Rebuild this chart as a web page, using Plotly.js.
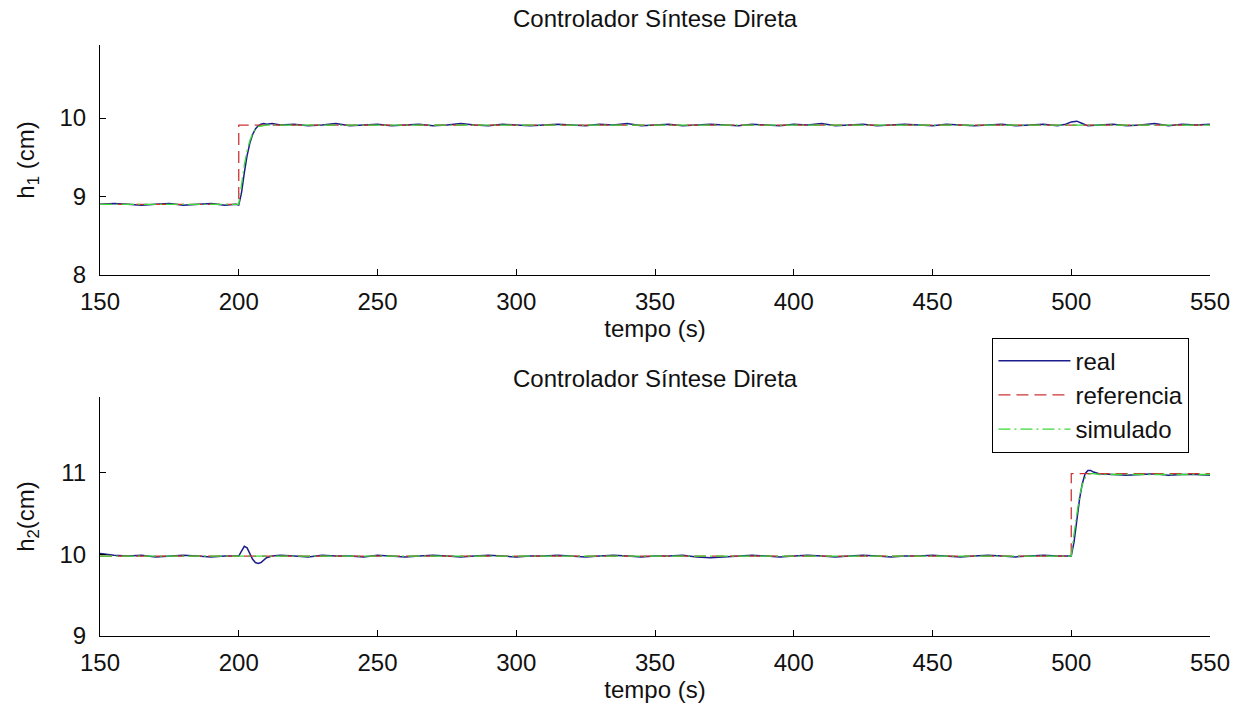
<!DOCTYPE html>
<html>
<head>
<meta charset="utf-8">
<script src="https://cdn.plot.ly/plotly-3.0.1.min.js"></script>
<style>html,body{margin:0;padding:0;background:#fff;}#chart{width:1238px;height:703px;}</style>
</head>
<body>
<div id="chart"></div>
<script>
// ---------- data: top plot (h1) ----------
const t1 = [150,155,160,165,170,175,180,185,190,195,199,200,201,202,203,204,205,206,207,208,209,210,212,215,
  220,225,230,235,240,245,250,255,260,265,270,275,280,285,290,295,300,305,310,315,320,325,330,335,340,345,
  350,355,360,365,370,375,380,385,390,395,400,405,410,415,420,425,430,435,440,445,450,455,460,465,470,475,
  480,485,490,495,498,500,502,504,506,510,515,520,525,530,535,540,545,550];
const real1 = [8.90,8.91,8.90,8.89,8.90,8.91,8.89,8.90,8.91,8.89,8.90,
  8.89,9.05,9.30,9.52,9.68,9.79,9.86,9.90,9.92,9.93,9.92,9.93,9.91,
  9.92,9.90,9.91,9.93,9.90,9.91,9.92,9.90,9.91,9.92,
  9.90,9.91,9.93,9.91,9.90,9.92,9.91,9.90,9.91,9.92,
  9.91,9.90,9.92,9.91,9.93,9.90,9.91,9.92,9.90,9.91,
  9.92,9.91,9.90,9.92,9.91,9.90,9.92,9.91,9.93,9.90,
  9.91,9.92,9.90,9.91,9.92,9.91,9.90,9.92,9.91,9.90,
  9.91,9.92,9.90,9.91,9.92,9.90,
  9.92,9.95,9.96,9.93,9.90,
  9.91,9.92,9.90,9.91,9.93,9.90,9.92,9.91,9.92];
const refT1 = [150,200,200,550];
const ref1 = [8.90,8.90,9.91,9.91];
const simT1 = [150,200,201,202,203,204,205,206,207,208,209,210,550];
const sim1 = [8.90,8.90,9.15,9.40,9.58,9.71,9.80,9.86,9.89,9.90,9.91,9.91,9.91];

// ---------- data: bottom plot (h2) ----------
const t2 = [150,152,155,160,165,170,175,180,185,190,195,199,200,201,202,203,204,205,206,207,208,209,210,212,215,
  220,225,230,235,240,245,250,255,260,265,270,275,280,285,290,295,300,305,310,315,320,325,330,335,340,345,
  350,355,360,365,370,375,380,385,390,395,400,405,410,415,420,425,430,435,440,445,450,455,460,465,470,475,
  480,485,490,495,499,500,501,502,503,504,505,506,507,508,510,515,520,525,530,535,540,545,550];
const real2 = [10.01,10.00,9.99,9.98,9.99,9.97,9.98,9.99,9.98,9.97,9.98,
  9.98,9.98,10.04,10.10,10.08,10.01,9.94,9.90,9.89,9.90,9.93,9.96,9.98,9.99,
  9.98,9.97,9.99,9.98,9.98,9.97,9.99,9.98,9.97,9.98,
  9.99,9.98,9.97,9.98,9.99,9.98,9.97,9.98,9.98,9.99,
  9.98,9.97,9.98,9.99,9.98,9.97,9.98,9.98,9.99,9.97,
  9.96,9.97,9.98,9.99,9.98,9.97,9.98,9.99,9.98,9.97,
  9.98,9.99,9.98,9.97,9.98,9.98,9.99,9.98,9.97,9.98,
  9.99,9.98,9.97,9.98,9.99,9.98,
  9.98,9.98,10.15,10.42,10.68,10.87,10.99,11.03,11.03,11.01,
  10.99,10.98,10.97,10.98,10.99,10.97,10.98,10.98,10.97];
const refT2 = [150,500,500,550];
const ref2 = [9.98,9.98,10.99,10.99];
const simT2 = [150,500,501,502,503,504,505,506,507,508,510,550];
const sim2 = [9.98,9.98,10.25,10.50,10.72,10.86,10.94,10.98,10.99,10.99,10.98,10.98];

const xTicks = [150,200,250,300,350,400,450,500,550];
const titleText = 'Controlador Síntese Direta';

// ---------- styles ----------
const cReal = '#1c1c8c', cRef = '#cc3535', cSim = '#3bd63b';
const FONT = 'Liberation Sans, Arial, Helvetica, sans-serif';
const FS = 24;
const txtFont = {family:FONT, size:FS, color:'#111'};

const traces = [
  {x:t1, y:real1, xaxis:'x', yaxis:'y', name:'real', mode:'lines', line:{color:cReal, width:1.5}},
  {x:refT1, y:ref1, xaxis:'x', yaxis:'y', name:'referencia', mode:'lines', line:{color:cRef, width:1.3, dash:'12px,6px'}},
  {x:simT1, y:sim1, xaxis:'x', yaxis:'y', name:'simulado', mode:'lines', line:{color:cSim, width:1.3, dash:'12px,4px,2px,4px'}},
  {x:t2, y:real2, xaxis:'x2', yaxis:'y2', name:'real', showlegend:false, mode:'lines', line:{color:cReal, width:1.5}},
  {x:refT2, y:ref2, xaxis:'x2', yaxis:'y2', name:'referencia', showlegend:false, mode:'lines', line:{color:cRef, width:1.3, dash:'12px,6px'}},
  {x:simT2, y:sim2, xaxis:'x2', yaxis:'y2', name:'simulado', showlegend:false, mode:'lines', line:{color:cSim, width:1.3, dash:'12px,4px,2px,4px'}}
];

const xBase = {range:[150,550], tickvals:xTicks, showline:true, linecolor:'#000', linewidth:1,
  ticks:'inside', ticklen:6, tickcolor:'#000', showgrid:false, zeroline:false, mirror:false,
  tickfont:txtFont, ticklabelstandoff:5, title:{text:'tempo (s)', standoff:5, font:txtFont}};
const yBase = {showline:true, linecolor:'#000', linewidth:1, ticks:'inside', ticklen:6, tickcolor:'#000',
  showgrid:false, zeroline:false, mirror:false, dtick:1, tickfont:txtFont, ticklabelstandoff:8};

const layout = {
  width:1238, height:703,
  margin:{l:100, r:28, t:45, b:67},
  paper_bgcolor:'#fff', plot_bgcolor:'#fff',
  font:txtFont,
  showlegend:true,
  xaxis:Object.assign({}, xBase, {anchor:'y'}),
  yaxis:Object.assign({}, yBase, {domain:[0.6108,1], range:[8,10.93], title:{text:'h<sub>1</sub> (cm)', standoff:18, font:txtFont}}),
  xaxis2:Object.assign({}, xBase, {anchor:'y2'}),
  yaxis2:Object.assign({}, yBase, {domain:[0,0.4044], range:[9,11.93], title:{text:'h<sub>2</sub>(cm)', standoff:18, font:txtFont}}),
  legend:{x:0.804, y:0.505, xanchor:'left', yanchor:'top', bgcolor:'#fff', bordercolor:'#000', borderwidth:1,
    font:txtFont, itemwidth:72, tracegroupgap:0},
  annotations:[
    {text:titleText, xref:'paper', yref:'paper', x:0.5, y:1.045, xanchor:'center', yanchor:'middle', showarrow:false, font:txtFont},
    {text:titleText, xref:'paper', yref:'paper', x:0.5, y:0.4365, xanchor:'center', yanchor:'middle', showarrow:false, font:txtFont}
  ]
};

Plotly.newPlot('chart', traces, layout, {displayModeBar:false, staticPlot:true});
</script>
</body>
</html>
